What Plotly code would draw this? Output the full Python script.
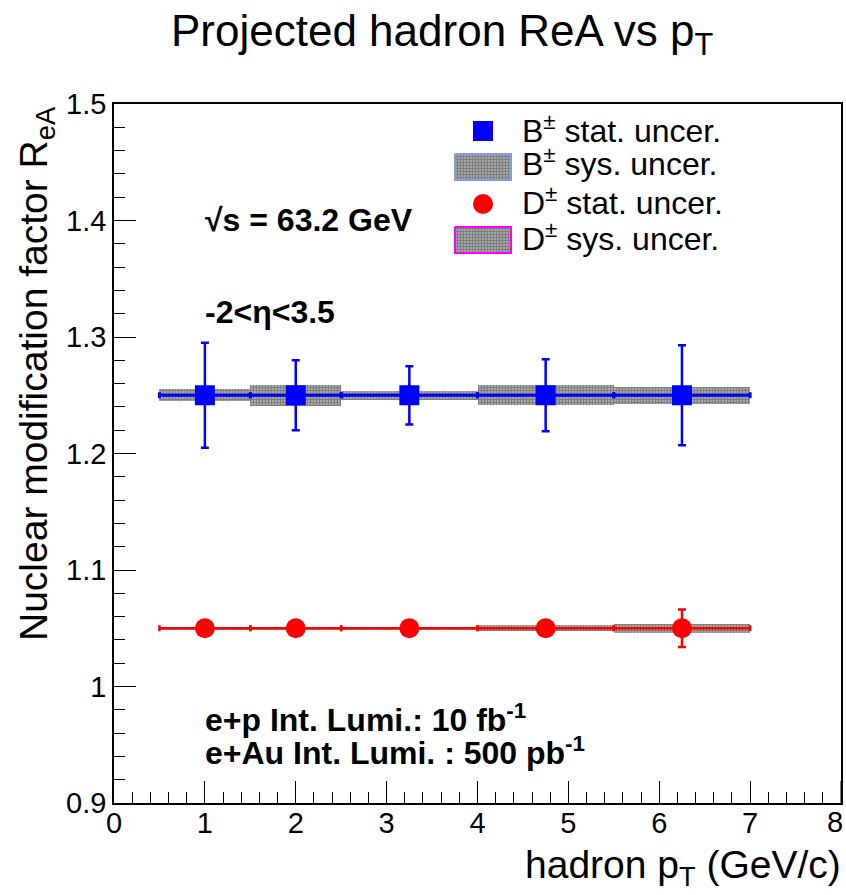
import plotly.graph_objects as go

# ---------------- data ----------------
pt = [1.0, 2.0, 3.25, 4.75, 6.25]
pt_halfwidth = [0.5, 0.5, 0.75, 0.75, 0.75]

B_val = [1.25, 1.25, 1.25, 1.25, 1.25]
B_stat = [0.045, 0.030, 0.025, 0.031, 0.043]
B_sys = [0.0052, 0.0089, 0.0039, 0.0084, 0.0071]

D_val = [1.05, 1.05, 1.05, 1.05, 1.05]
D_stat = [0.004, 0.004, 0.004, 0.006, 0.016]
D_sys = [0.0012, 0.0012, 0.0012, 0.0025, 0.0037]

x_ticks = [0, 1, 2, 3, 4, 5, 6, 7, 8]
y_ticks = [0.9, 1.0, 1.1, 1.2, 1.3, 1.4, 1.5]
y_ticktext = ["0.9", "1", "1.1", "1.2", "1.3", "1.4", "1.5"]

legend_labels = ["B<sup>±</sup> stat. uncer.", "B<sup>±</sup> sys. uncer.",
                 "D<sup>±</sup> stat. uncer.", "D<sup>±</sup> sys. uncer."]

# ---------------- layout constants (pixels) ----------------
W, H = 846, 895
L, R, T, B = 114, 841, 104, 803
PW, PH = R - L, B - T
FONT = "Liberation Sans, Arial, Helvetica, sans-serif"
BLUE = "#0000ff"
RED = "#ff0000"


def fx(x):
    return (x - L) / PW


def fy(y):
    return (B - y) / PH


pattern = dict(shape=".", fgcolor="#000000", bgcolor="white", size=3, solidity=0.8)

fig = go.Figure()

# systematic boxes (bars with pattern)
fig.add_trace(go.Bar(
    x=pt, y=[2 * s for s in B_sys], base=[v - s for v, s in zip(B_val, B_sys)],
    width=[2 * w for w in pt_halfwidth],
    marker=dict(color="white", pattern=pattern, line=dict(width=0)),
    showlegend=False, hoverinfo="skip"))
fig.add_trace(go.Bar(
    x=pt, y=[2 * s for s in D_sys], base=[v - s for v, s in zip(D_val, D_sys)],
    width=[2 * w for w in pt_halfwidth],
    marker=dict(color="white", pattern=pattern, line=dict(width=0)),
    showlegend=False, hoverinfo="skip"))

# stat points
fig.add_trace(go.Scatter(
    x=pt, y=B_val, mode="markers",
    marker=dict(symbol="square", size=20, color=BLUE),
    error_y=dict(type="data", array=B_stat, color=BLUE, thickness=2.5, width=4),
    error_x=dict(type="data", array=pt_halfwidth, color=BLUE, thickness=3, width=3),
    showlegend=False))
fig.add_trace(go.Scatter(
    x=pt, y=D_val, mode="markers",
    marker=dict(symbol="circle", size=20, color=RED),
    error_y=dict(type="data", array=D_stat, color=RED, thickness=2.5, width=4),
    error_x=dict(type="data", array=pt_halfwidth, color=RED, thickness=2.5, width=3),
    showlegend=False))

# ---------------- legend keys on an overlay axis (paper-like 0..1) ----------------
def box(x0, x1, y0, y1):
    return [fx(x0), fx(x1), fx(x1), fx(x0), fx(x0)], [fy(y0), fy(y0), fy(y1), fy(y1), fy(y0)]

bx, by = box(455, 511, 154, 180)
fig.add_trace(go.Scatter(x=bx, y=by, xaxis="x2", yaxis="y2", mode="lines", fill="toself",
                         fillcolor="white", fillpattern=pattern,
                         line=dict(color="#7d9fd6", width=2), showlegend=False, hoverinfo="skip"))
dx, dy = box(455, 511, 227, 253)
fig.add_trace(go.Scatter(x=dx, y=dy, xaxis="x2", yaxis="y2", mode="lines", fill="toself",
                         fillcolor="white", fillpattern=pattern,
                         line=dict(color="#ff00ff", width=2), showlegend=False, hoverinfo="skip"))
fig.add_trace(go.Scatter(x=[fx(483)], y=[fy(131)], xaxis="x2", yaxis="y2", mode="markers",
                         marker=dict(symbol="square", size=20, color=BLUE),
                         showlegend=False, hoverinfo="skip"))
fig.add_trace(go.Scatter(x=[fx(483)], y=[fy(204)], xaxis="x2", yaxis="y2", mode="markers",
                         marker=dict(symbol="circle", size=20, color=RED),
                         showlegend=False, hoverinfo="skip"))

annotations = []
for lab, yy in zip(legend_labels, [129, 162, 201, 237]):
    annotations.append(dict(text=lab, x=fx(520), y=fy(yy), xref="paper", yref="paper",
                            xanchor="left", yanchor="middle", showarrow=False,
                            font=dict(family=FONT, size=32, color="black")))

# text labels
txt = [
    ("<b>√s = 63.2 GeV</b>", 203, 220),
    ("<b>-2&lt;η&lt;3.5</b>", 203, 312),
    ("<b>e+p Int. Lumi.: 10 fb<sup>-1</sup></b>", 203, 718),
    ("<b>e+Au Int. Lumi. : 500 pb<sup>-1</sup></b>", 203, 751),
]
for t, xx, yy in txt:
    annotations.append(dict(text=t, x=fx(xx), y=fy(yy), xref="paper", yref="paper",
                            xanchor="left", yanchor="middle", showarrow=False,
                            font=dict(family=FONT, size=32, color="black")))

# last x tick label (kept inside the page edge)
annotations.append(dict(text=str(x_ticks[-1]), x=x_ticks[-1], xref="x", y=fy(822),
                        yref="paper", xanchor="right", xshift=4, yanchor="middle",
                        showarrow=False, font=dict(family=FONT, size=29, color="black")))

# title and axis titles
annotations.append(dict(text="Projected hadron ReA vs p<sub>T</sub>", x=fx(442), y=fy(4),
                        xref="paper", yref="paper", xanchor="center", yanchor="top",
                        showarrow=False, font=dict(family=FONT, size=44, color="black")))
annotations.append(dict(text="Nuclear modification factor R<sub>eA</sub>", x=fx(36), y=fy(374),
                        xref="paper", yref="paper", xanchor="center", yanchor="middle",
                        textangle=-90, showarrow=False,
                        font=dict(family=FONT, size=39, color="black")))
annotations.append(dict(text="hadron p<sub>T</sub> (GeV/c)", x=fx(843), y=fy(867),
                        xref="paper", yref="paper", xanchor="right", yanchor="middle",
                        showarrow=False, font=dict(family=FONT, size=39, color="black")))

fig.update_layout(
    width=W, height=H,
    margin=dict(l=L, r=W - R, t=T, b=H - B, pad=0),
    paper_bgcolor="white", plot_bgcolor="white",
    barmode="overlay", bargap=0,
    showlegend=False,
    annotations=annotations,
    xaxis=dict(range=[0, 8], tickvals=x_ticks[:-1], ticks="inside", ticklen=22, tickwidth=1,
               tickcolor="black", showline=True, linecolor="black", linewidth=1.5, mirror=True,
               showgrid=False, zeroline=False, automargin=False, ticklabelstandoff=-7,
               tickfont=dict(family=FONT, size=29, color="black"),
               minor=dict(dtick=0.2, ticks="inside", ticklen=11, tickcolor="black", tickwidth=1,
                          showgrid=False)),
    yaxis=dict(range=[0.9, 1.5], tickvals=y_ticks, ticktext=y_ticktext, ticks="inside",
               ticklen=22, tickwidth=1, tickcolor="black", showline=True, linecolor="black",
               linewidth=1.5, mirror=True, showgrid=False, zeroline=False, automargin=False,
               tickfont=dict(family=FONT, size=29, color="black"),
               minor=dict(dtick=0.02, ticks="inside", ticklen=11, tickcolor="black",
                          tickwidth=1, showgrid=False)),
    xaxis2=dict(overlaying="x", range=[0, 1], visible=False, fixedrange=True),
    yaxis2=dict(overlaying="y", range=[0, 1], visible=False, fixedrange=True),
    shapes=[dict(type="line", xref="x", yref="paper", x0=x_ticks[-1], x1=x_ticks[-1],
                 y0=0, y1=22 / PH, line=dict(color="black", width=1))],
)

fig.write_html("out.html", config={"displayModeBar": False},
               post_script="document.body.style.margin='0';document.body.style.overflow='hidden';")
